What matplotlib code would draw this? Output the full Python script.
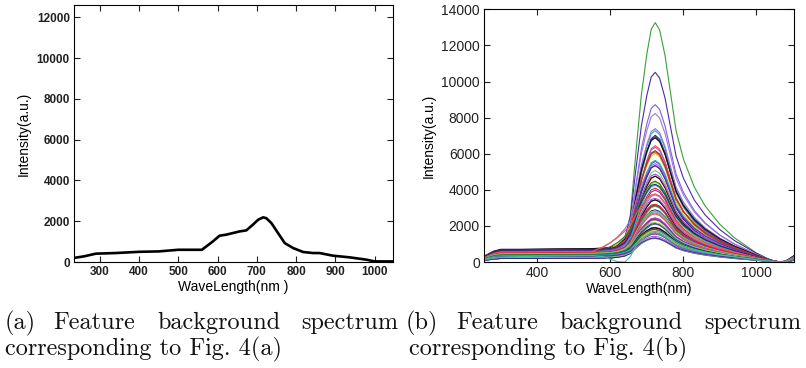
import numpy as np
import matplotlib
matplotlib.use('Agg')
import matplotlib.pyplot as plt

# ---- panel (a): single background spectrum
wl_a = [234, 260, 290, 340, 400, 450, 500, 560, 588, 605, 622, 656, 673, 690,
        703, 716, 724, 737, 754, 771, 792, 818, 843, 860, 894, 936, 979, 1000, 1047]
int_a = [200, 280, 410, 440, 500, 520, 600, 600, 1010, 1290, 1340, 1500, 1550, 1830,
         2070, 2190, 2150, 1910, 1420, 930, 690, 490, 440, 440, 310, 230, 115, 30, 30]

# ---- panel (b): many background spectra
wl_b = [254, 280, 300, 350, 400, 450, 500, 550, 580, 600, 620, 640, 655, 670, 685, 700, 712,
        723, 735, 750, 765, 780, 800, 830, 860, 900, 940, 970, 1000, 1030, 1050, 1070, 1085, 1103]
# peak profile (normalised)
peak_shape = [0, 0, 0, 0, 0, 0, 0, 0, 0, 0, 0.01, 0.05, 0.16, 0.43, 0.68, 0.86, 0.97,
              1.0, 0.97, 0.86, 0.70, 0.54, 0.42, 0.30, 0.22, 0.145, 0.09, 0.06, 0.03, 0.01, 0, 0, 0, 0]
# plateau profile under the peak
base_shape = [0.45, 0.85, 1.0, 1.0, 1.02, 1.04, 1.05, 1.06, 1.1, 1.15, 1.25, 1.4, 1.5, 1.55, 1.55,
              1.5, 1.45, 1.4, 1.35, 1.25, 1.15, 1.05, 0.95, 0.85, 0.75, 0.62, 0.5, 0.4, 0.3, 0.15,
              0.07, 0.0, 0.15, 0.5]
# early shoulder seen on a few purple curves
shoulder_shape = [0, 0, 0, 0, 0, 0, 0, 0, 0.3, 0.55, 0.8, 1.0, 0.9, 0.6, 0.3, 0.1, 0,
                  0, 0, 0, 0, 0, 0, 0, 0, 0, 0, 0, 0, 0, 0, 0, 0, 0]

peaks_b = [12700, 9600, 7950, 7250, 6650, 6600, 6550, 6400, 6250, 6100, 5900, 5800, 5600,
           5400, 5300, 5200, 5000, 4850, 4750, 4650, 4500, 4400, 4200, 4100, 4000, 3850,
           3700, 3600, 3550, 3400, 3300, 3200, 3100, 3000, 2950, 2900, 2800, 2700, 2600,
           2500, 2450, 2400, 2300, 2200, 2150, 2100, 2000, 1950, 1900, 1850, 1800, 1750,
           1700, 1650, 1600, 1550, 1500, 1450, 1400, 1350, 1300, 1250, 1200, 1150, 1100,
           1050, 1000, 950, 900]
bases_b = [400, 650, 550, 700, 450, 300, 600, 350, 500, 250, 700, 400, 300, 550, 200, 650,
           450, 350, 500, 300, 600, 250, 400, 550, 300, 450, 200, 350, 500, 650, 300, 400,
           250, 550, 350, 450, 200, 300, 400, 500, 250, 350, 300, 450, 200, 400, 250, 350,
           300, 200, 400, 250, 300, 350, 200, 450, 300, 250, 350, 200, 300, 400, 250, 300,
           350, 200, 300, 250, 300]
shoulders_b = [0, 0, 0, 0, 0, 0, 0, 0, 0, 0, 0, 0, 700, 0, 0, 0, 0, 0, 900, 0, 0, 0, 0, 0,
               0, 600, 0, 0, 0, 0, 0, 0, 0, 800, 0, 0, 0, 0, 0, 0, 0, 0, 0, 0, 0, 0, 0, 0,
               0, 0, 0, 0, 0, 0, 0, 0, 0, 0, 0, 0, 0, 0, 0, 0, 0, 0, 0, 0, 0]
dip_curve = [150, 250, 280, 300, 320, 330, 340, 350, 300, 150, 20, 0, 300, 900, 1200, 1500,
             1650, 1700, 1650, 1500, 1300, 1100, 900, 700, 550, 400, 300, 200, 120, 60, 20,
             0, 60, 200]

top_colors = ['#3aa03a', '#4a2aa8', '#8060d0', '#9a78d8']
palette = ['#c8c81e', '#1f7a1f', '#7b2fbf', '#e8231f', '#20b8c8', '#2a2a7a',
           '#9a6fd8', '#7ac47a', '#5b2bb0', '#ff5050', '#101010', '#b050c0']

sans = ['Liberation Sans', 'DejaVu Sans']

fig = plt.figure(figsize=(8.06, 3.68), dpi=100)
ax1 = fig.add_axes([0.0918, 0.288, 0.3958, 0.6984])
ax2 = fig.add_axes([0.6005, 0.288, 0.3846, 0.6867])

# panel (a)
ax1.plot(wl_a, int_a, color='black', lw=1.9)
ax1.set_xlim(234, 1047)
ax1.set_ylim(0, 12600)
ax1.set_xticks([300, 400, 500, 600, 700, 800, 900, 1000])
ax1.set_yticks(range(0, 12001, 2000))
for lab in ax1.get_xticklabels() + ax1.get_yticklabels():
    lab.set_fontfamily(sans)
    lab.set_fontweight('bold')
    lab.set_fontsize(8.5)
ax1.set_xlabel('WaveLength(nm )', fontfamily=sans, fontsize=10, labelpad=1)
ax1.set_ylabel('Intensity(a.u.)', fontfamily=sans, fontsize=10, labelpad=4)

# panel (b)
wl_b = np.array(wl_b)
for i, (pk, bs, sh) in enumerate(zip(peaks_b, bases_b, shoulders_b)):
    y = pk * np.array(peak_shape) + bs * np.array(base_shape) + sh * np.array(shoulder_shape)
    col = top_colors[i] if i < len(top_colors) else palette[i % len(palette)]
    ax2.plot(wl_b, y, color=col, lw=0.8)
ax2.plot(wl_b, dip_curve, color='#40c0a0', lw=0.8)
ax2.set_xlim(254, 1103)
ax2.set_ylim(0, 14000)
ax2.set_xticks([400, 600, 800, 1000])
ax2.set_yticks(range(0, 14001, 2000))
for lab in ax2.get_xticklabels() + ax2.get_yticklabels():
    lab.set_fontfamily(sans)
    lab.set_fontsize(10)
ax2.set_xlabel('WaveLength(nm)', fontfamily=sans, fontsize=10, labelpad=1)
ax2.set_ylabel('Intensity(a.u.)', fontfamily=sans, fontsize=10, labelpad=4)

for ax in (ax1, ax2):
    ax.tick_params(direction='in', top=True, right=True, length=4, width=0.8, pad=3,
                   colors='#222222')
    for sp in ax.spines.values():
        sp.set_linewidth(0.8)

# captions (justified first line, like the paper layout)
cap = dict(fontfamily='cmr10', fontsize=17.5, color='#111111')
y1, y2 = 1 - 329 / 368, 1 - 355 / 368
for words, xs, last in [(['(a)', 'Feature', 'background'], [5, 53, 157], ('spectrum', 398)),
                        (['(b)', 'Feature', 'background'], [406, 456, 559], ('spectrum', 801))]:
    for w, x in zip(words, xs):
        fig.text(x / 806, y1, w, ha='left', va='baseline', **cap)
    fig.text(last[1] / 806, y1, last[0], ha='right', va='baseline', **cap)
fig.text(5 / 806, y2, 'corresponding to Fig. 4(a)', ha='left', va='baseline', **cap)
fig.text(409 / 806, y2, 'corresponding to Fig. 4(b)', ha='left', va='baseline', **cap)

fig.savefig('out.png', dpi=100)
